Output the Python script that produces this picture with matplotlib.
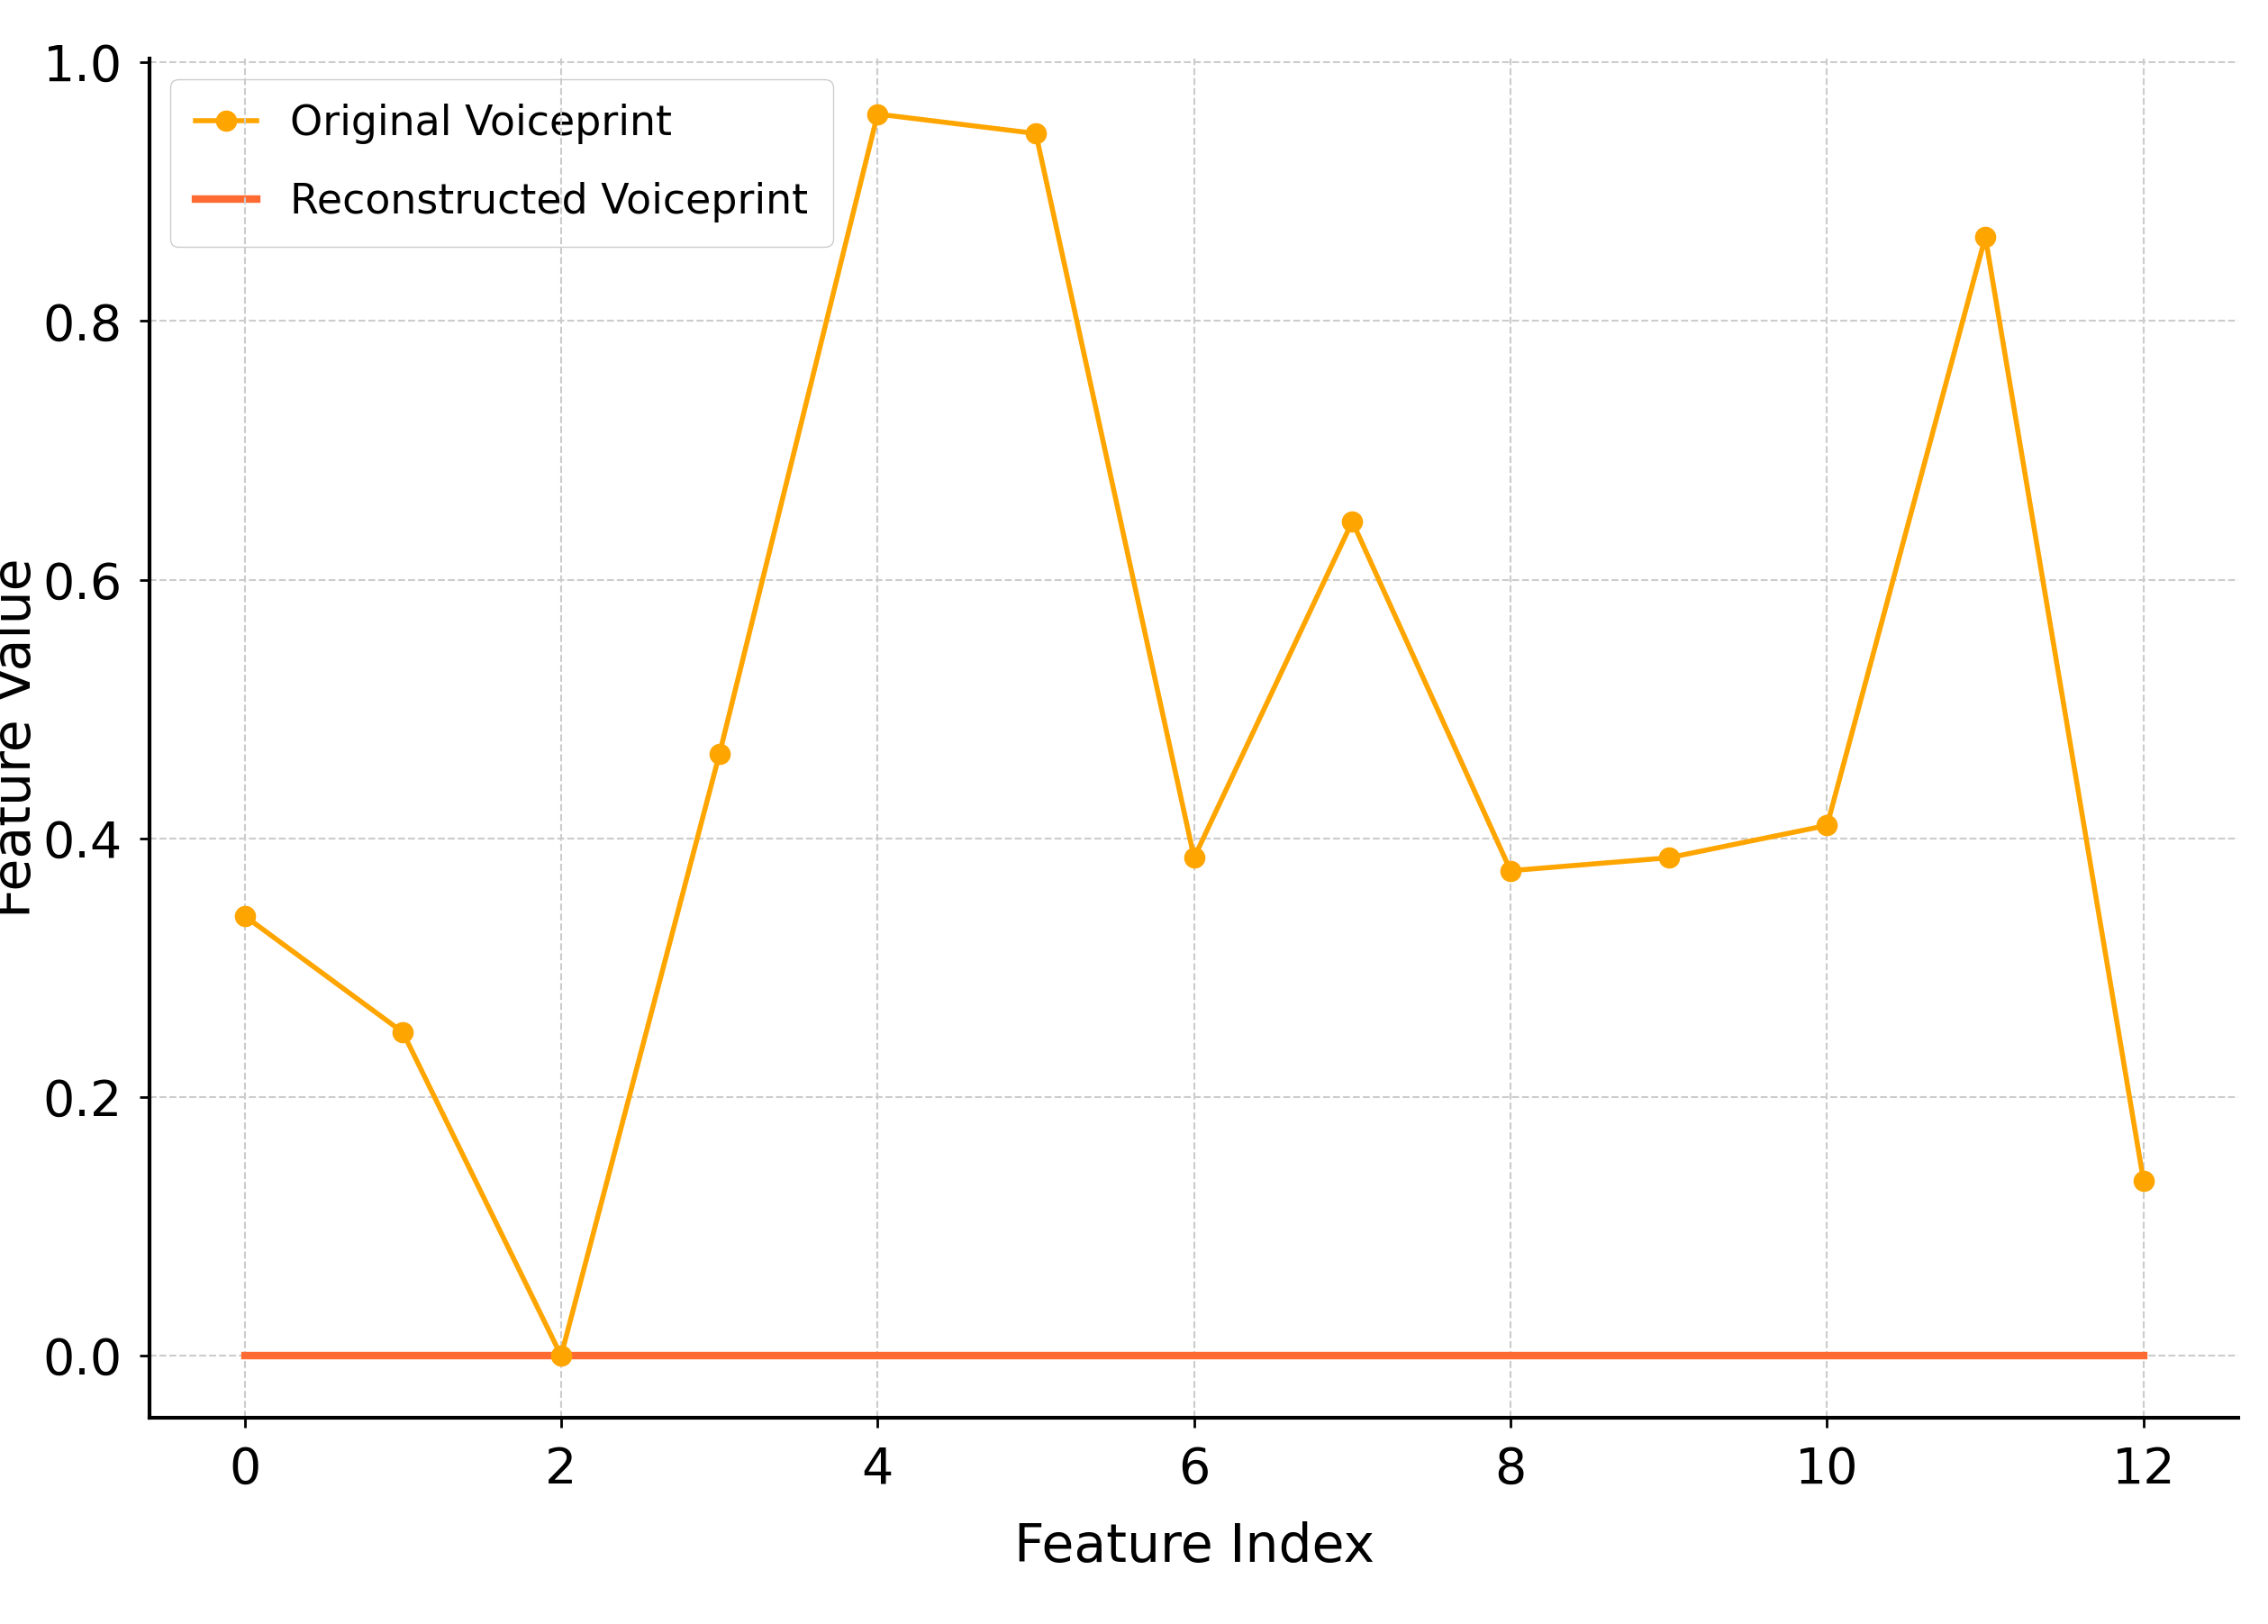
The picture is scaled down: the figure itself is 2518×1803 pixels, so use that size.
import matplotlib
matplotlib.use("Agg")
import matplotlib.pyplot as plt

feature_index = list(range(13))
original = [0.34, 0.25, 0.0, 0.465, 0.96, 0.945, 0.385, 0.645, 0.375, 0.385, 0.41, 0.865, 0.135]
reconstructed = [0.0] * 13

fig = plt.figure(figsize=(25.18, 18.03), dpi=100)
ax = fig.add_axes([0.066, 0.127, 0.921, 0.837])

ax.plot(feature_index, original, color="#FFA500", marker="o", markersize=16,
        linewidth=4, label="Original Voiceprint", zorder=3)
ax.plot(feature_index, reconstructed, color="#FF6A33", linewidth=6,
        label="Reconstructed Voiceprint", zorder=2)

ax.set_xlim(-0.6, 12.6)
ax.set_ylim(-0.048, 1.003)
ax.set_xticks(range(0, 13, 2))
ax.set_yticks([0.0, 0.2, 0.4, 0.6, 0.8, 1.0])
ax.tick_params(labelsize=40, length=8, width=2, pad=14)
ax.grid(True, linestyle="--", color="#cccccc", linewidth=1.5)
for s in ("top", "right"):
    ax.spines[s].set_visible(False)
for s in ("left", "bottom"):
    ax.spines[s].set_linewidth(3)

ax.set_xlabel("Feature Index", fontsize=42, labelpad=22)
ax.set_ylabel("Feature Value", fontsize=42, labelpad=4)
ax.yaxis.set_label_coords(-0.052, 0.5)
leg = ax.legend(loc="upper left", fontsize=33, handlelength=1.5, borderpad=0.6,
                labelspacing=0.9, framealpha=1.0, edgecolor="#cccccc")
leg.set_zorder(1)

fig.savefig("out.png", dpi=100)
